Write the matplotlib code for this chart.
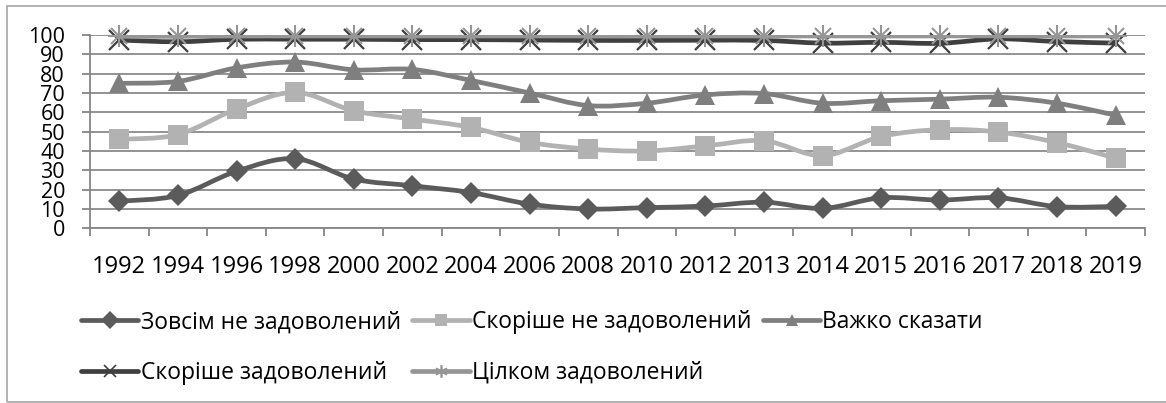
import numpy as np
import matplotlib.pyplot as plt
from matplotlib.path import Path
from matplotlib.patches import PathPatch, Rectangle
from matplotlib.lines import Line2D

plt.rcParams['font.family'] = ['Open Sans', 'DejaVu Sans']

years = ['1992', '1994', '1996', '1998', '2000', '2002', '2004', '2006', '2008',
         '2010', '2012', '2013', '2014', '2015', '2016', '2017', '2018', '2019']

# cumulative shares, %
not_at_all = [14, 17, 29.5, 36, 25.5, 22, 18.5, 12.5, 10, 10.7, 11.5, 13.5, 10.3, 15.8, 14.6, 15.8, 11.2, 11.3]
rather_not = [46, 48.5, 61.7, 70.3, 60.8, 56.5, 52.2, 44.5, 41, 40, 42.6, 45.3, 37.6, 47.5, 51, 49.8, 44.3, 36.3]
hard_to_say = [75, 76, 83, 86, 82, 82.2, 76.5, 70, 63.5, 64.7, 69, 69.7, 64.7, 66, 66.8, 67.8, 64.7, 58.5]
rather_yes = [97.4, 96.5, 97.8, 97.8, 97.8, 97.6, 97.6, 97.4, 97.2, 97.2, 97.3, 97.2, 95.8, 96.2, 95.7, 98, 96.6, 95.8]
fully = [99.3, 99.3, 99.5, 99.5, 99.5, 99.5, 99.5, 99.5, 99.5, 99.5, 99.5, 99.5, 99.5, 99.5, 99.5, 99.6, 99.5, 99.5]

labels = ['Зовсім не задоволений', 'Скоріше не задоволений', 'Важко сказати',
          'Скоріше задоволений', 'Цілком задоволений']
series = [not_at_all, rather_not, hard_to_say, rather_yes, fully]
colors = ['#5b5b5b', '#b2b2b2', '#7f7f7f', '#3f3f3f', '#969696']
markers = ['D', 's', '^', 'x', '*']
msizes = [11, 14, 14, 15, 15]


def smooth_path(xs, ys):
    """Bezier path through the points, like a spreadsheet smoothed line."""
    pts = np.column_stack([xs, ys]).astype(float)
    n = len(pts)
    verts = [pts[0]]
    codes = [Path.MOVETO]
    for i in range(n - 1):
        p0 = pts[max(i - 1, 0)]
        p1 = pts[i]
        p2 = pts[i + 1]
        p3 = pts[min(i + 2, n - 1)]
        c1 = p1 + (p2 - p0) / 6
        c2 = p2 - (p3 - p1) / 6
        verts += [c1, c2, p2]
        codes += [Path.CURVE4] * 3
    return Path(verts, codes)


def draw_markers(ax, xs, ys, mk, ms, col, z=4):
    # '*' is drawn as thin crossed strokes (x on top of +)
    if mk == '*':
        ax.plot(xs, ys, linestyle='none', marker='x', ms=ms * 0.8, mew=1.5,
                color=col, zorder=z, clip_on=False)
        ax.plot(xs, ys, linestyle='none', marker='+', ms=ms * 1.1, mew=1.5,
                color=col, zorder=z, clip_on=False)
    elif mk == 'x':
        ax.plot(xs, ys, linestyle='none', marker='x', ms=ms, mew=1.6,
                color=col, zorder=z, clip_on=False)
    else:
        ax.plot(xs, ys, linestyle='none', marker=mk, ms=ms, mew=0,
                color=col, zorder=z, clip_on=False)


fig = plt.figure(figsize=(11.66, 4.03), dpi=100)
ax = fig.add_axes([90 / 1166, 1 - 228.3 / 403, (1145 - 90) / 1166, (228.3 - 35) / 403])

x = np.arange(len(years))
for k, (vals, col, mk, ms) in enumerate(zip(series, colors, markers, msizes)):
    ax.add_patch(PathPatch(smooth_path(x, vals), fill=False, edgecolor=col,
                           lw=3.4, capstyle='round', joinstyle='round', zorder=3 + 2 * k))
    draw_markers(ax, x, vals, mk, ms, col, z=4 + 2 * k)

ax.set_xlim(-0.5, len(years) - 0.5)
ax.set_ylim(0, 100)
ax.set_yticks(np.arange(0, 101, 10))
ax.set_xticks(x)
ax.set_xticklabels(years, fontsize=17)
ax.set_xticks(np.arange(-0.5, len(years)), minor=True)
ax.tick_params(axis='x', which='major', length=0, pad=19)
ax.tick_params(axis='x', which='minor', length=6, width=1.3, color='#868686', direction='out')
ax.tick_params(axis='y', length=6, width=1.3, color='#868686', direction='out',
               labelsize=15.5, pad=12)

ax.grid(axis='y', color='#8a8a8a', lw=1.3)
ax.set_axisbelow(True)
for side in ('top', 'right'):
    ax.spines[side].set_visible(False)
for side in ('left', 'bottom'):
    ax.spines[side].set_color('#868686')
    ax.spines[side].set_linewidth(1.3)

# legend: reorder so that columns hold (1,4), (2,5), (3)
handles = []
for col, mk in zip(colors, markers):
    if mk == '*':
        mk = (6, 2, 0)
    handles.append(Line2D([0], [0], color=col, lw=3.4, marker=mk, ms=9,
                          mew=1.2 if mk in ('x', (6, 2, 0)) else 0,
                          solid_capstyle='round'))
order = [0, 3, 1, 4, 2]
fig.legend([handles[i] for i in order], [labels[i] for i in order],
           ncol=3, loc='upper left', bbox_to_anchor=(72 / 1166, 1 - 301 / 403),
           frameon=False, fontsize=16.5, handlelength=2.5, handletextpad=0.1,
           columnspacing=0.5, labelspacing=1.15, borderaxespad=0)

fig.patches.append(Rectangle((7 / 1166, 1.5 / 403), 1.1, 1 - 7.5 / 403,
                             transform=fig.transFigure, fill=False,
                             edgecolor='#a6a6a6', lw=1.2))

fig.savefig('out.png', dpi=100)
